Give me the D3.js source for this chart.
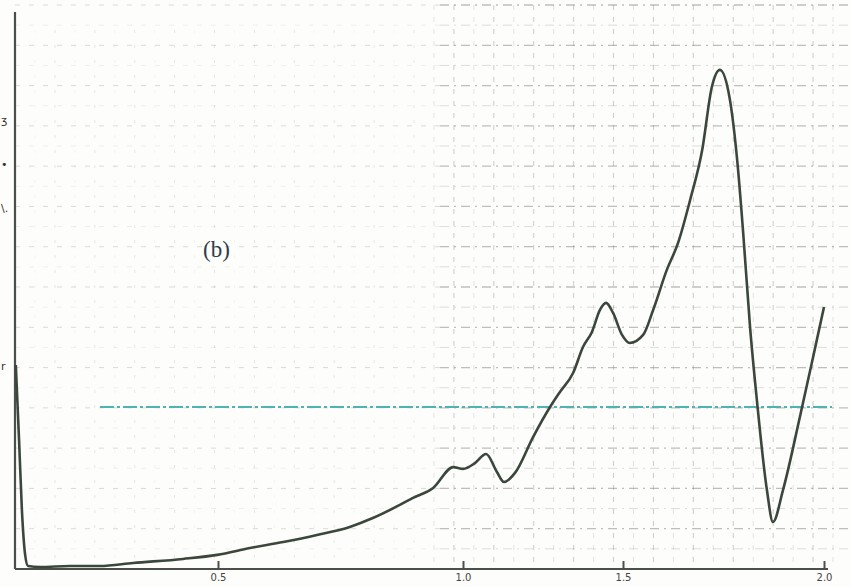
<!DOCTYPE html>
<html>
<head>
<meta charset="utf-8">
<script src="https://cdn.jsdelivr.net/npm/d3@7"></script>
<style>
  body { margin: 0; background: #fdfdfb; }
  svg { display: block; }
</style>
</head>
<body>
<svg width="851" height="587"></svg>
<script>
// spectrum trace (b), x in axis units, y in chart-paper divisions
var traceX = [0.002, 0.010, 0.017, 0.025, 0.032, 0.062, 0.135, 0.209, 0.291, 0.414,
  0.498, 0.565, 0.633, 0.702, 0.769, 0.816, 0.871, 0.898, 0.939, 0.980,
  1.000, 1.0375, 1.072, 1.106, 1.128, 1.1625, 1.219, 1.272, 1.303, 1.344,
  1.375, 1.403, 1.428, 1.447, 1.469, 1.497, 1.517, 1.550, 1.575, 1.609,
  1.637, 1.667, 1.697, 1.721, 1.741, 1.766, 1.784, 1.799, 1.816, 1.833,
  1.858, 1.873, 1.898, 1.940, 1.973, 2.000];
var traceY = [10.13, 6.41, 2.93, 0.70, 0.15, 0.10, 0.15, 0.15, 0.30, 0.50,
  0.70, 1.04, 1.34, 1.69, 2.09, 2.53, 3.18, 3.53, 4.02, 5.06,
  4.97, 5.26, 5.71, 4.82, 4.32, 4.77, 6.55, 8.04, 8.79, 9.73,
  11.02, 11.77, 12.86, 13.21, 12.71, 11.62, 11.22, 11.62, 12.86, 14.85,
  16.19, 18.32, 20.80, 23.93, 24.78, 23.29, 20.31, 16.68, 12.02, 8.39,
  3.92, 2.33, 3.92, 7.55, 10.53, 13.01];
var xTicks = [0.5, 1.0, 1.5, 2.0];
var referenceLevel = 8.04;   // dash-dot cyan line
var panelLabel = "(b)";

var svg = d3.select("svg");

// the printed axis is not evenly spaced, so use a piecewise scale
var x = d3.scaleLinear()
  .domain([0, 0.5, 1.0, 1.5, 2.0])
  .range([15, 218, 463, 623, 824]);
var y = d3.scaleLinear()
  .domain([0, 28])
  .range([569, 5]);
// graph paper columns (about 20px apart)
var paperX = d3.scaleLinear().domain([0, 41]).range([15, 833]);

// graph paper
var grid = svg.append("g").attr("class", "grid");
d3.range(1, 29).forEach(function(k) {
  var heavy = k % 2 === 0;
  grid.append("line")
    .attr("x1", 15).attr("x2", 440)
    .attr("y1", y(k)).attr("y2", y(k))
    .style("stroke", "#8a8a80")
    .style("stroke-opacity", heavy ? 0.3 : 0.12)
    .style("stroke-dasharray", "5,9");
  grid.append("line")
    .attr("x1", 440).attr("x2", 851)
    .attr("y1", y(k)).attr("y2", y(k))
    .style("stroke", "#6f746a")
    .style("stroke-opacity", heavy ? 0.45 : 0.22)
    .style("stroke-dasharray", "9,5,2,5")
    .style("stroke-width", heavy ? 1.3 : 1);
});
d3.range(1, 42).forEach(function(k) {
  var right = paperX(k) > 430;
  var heavy = k % 2 === 0;
  grid.append("line")
    .attr("x1", paperX(k)).attr("x2", paperX(k))
    .attr("y1", right ? 5 : 30).attr("y2", 562)
    .style("stroke", right ? "#6f746a" : "#8a8a80")
    .style("stroke-opacity", right ? (heavy ? 0.35 : 0.18) : (heavy ? 0.2 : 0.08))
    .style("stroke-dasharray", right ? "5,7" : "3,12")
    .style("stroke-width", 1);
});

// reference level
svg.append("line")
  .attr("x1", 100).attr("x2", 832)
  .attr("y1", y(referenceLevel)).attr("y2", y(referenceLevel))
  .style("stroke", "#4fb3b0")
  .style("stroke-width", 2)
  .style("stroke-dasharray", "14,3,3,3");

// axes
var xAxis = svg.append("g")
  .attr("transform", "translate(0," + y(0) + ")")
  .call(d3.axisBottom(x)
    .tickValues(xTicks)
    .tickSizeInner(-8)
    .tickSizeOuter(0)
    .tickPadding(5)
    .tickFormat(d3.format(".1f")));
xAxis.select(".domain")
  .attr("d", "M" + x(0) + ",0H" + (x(2) + 4))
  .style("stroke", "#4a4f4a")
  .style("stroke-width", 2);
xAxis.selectAll(".tick line").style("stroke", "#4a4f4a").style("stroke-width", 2);
xAxis.selectAll(".tick text")
  .style("font-family", "DejaVu Sans")
  .style("font-size", "10px")
  .style("fill", "#444");

svg.append("line")
  .attr("x1", x(0)).attr("x2", x(0))
  .attr("y1", y(0)).attr("y2", y(27.65))
  .style("stroke", "#4a4f4a")
  .style("stroke-width", 2.2);

// the trace
var pts = traceX.map(function(d, i) { return [d, traceY[i]]; });
var line = d3.line()
  .x(function(d) { return x(d[0]); })
  .y(function(d) { return y(d[1]); })
  .curve(d3.curveMonotoneX);
svg.append("path")
  .datum(pts)
  .attr("d", line)
  .style("fill", "none")
  .style("stroke", "#3b473d")
  .style("stroke-width", 2.6)
  .style("stroke-linejoin", "round");

// panel label
svg.append("text")
  .attr("x", 203).attr("y", 257)
  .style("font-family", "Liberation Serif")
  .style("font-size", "23px")
  .style("fill", "#2f3d4a")
  .text(panelLabel);

// handwriting fragments at the left edge
var marks = [["ʒ", 124], ["•", 168], ["\\.", 212], ["r", 370]];
svg.selectAll("text.mark").data(marks).enter().append("text")
  .attr("class", "mark")
  .attr("x", 1).attr("y", function(d) { return d[1]; })
  .style("font-family", "DejaVu Sans")
  .style("font-size", "11px")
  .style("fill", "#333")
  .text(function(d) { return d[0]; });
</script>
</body>
</html>
